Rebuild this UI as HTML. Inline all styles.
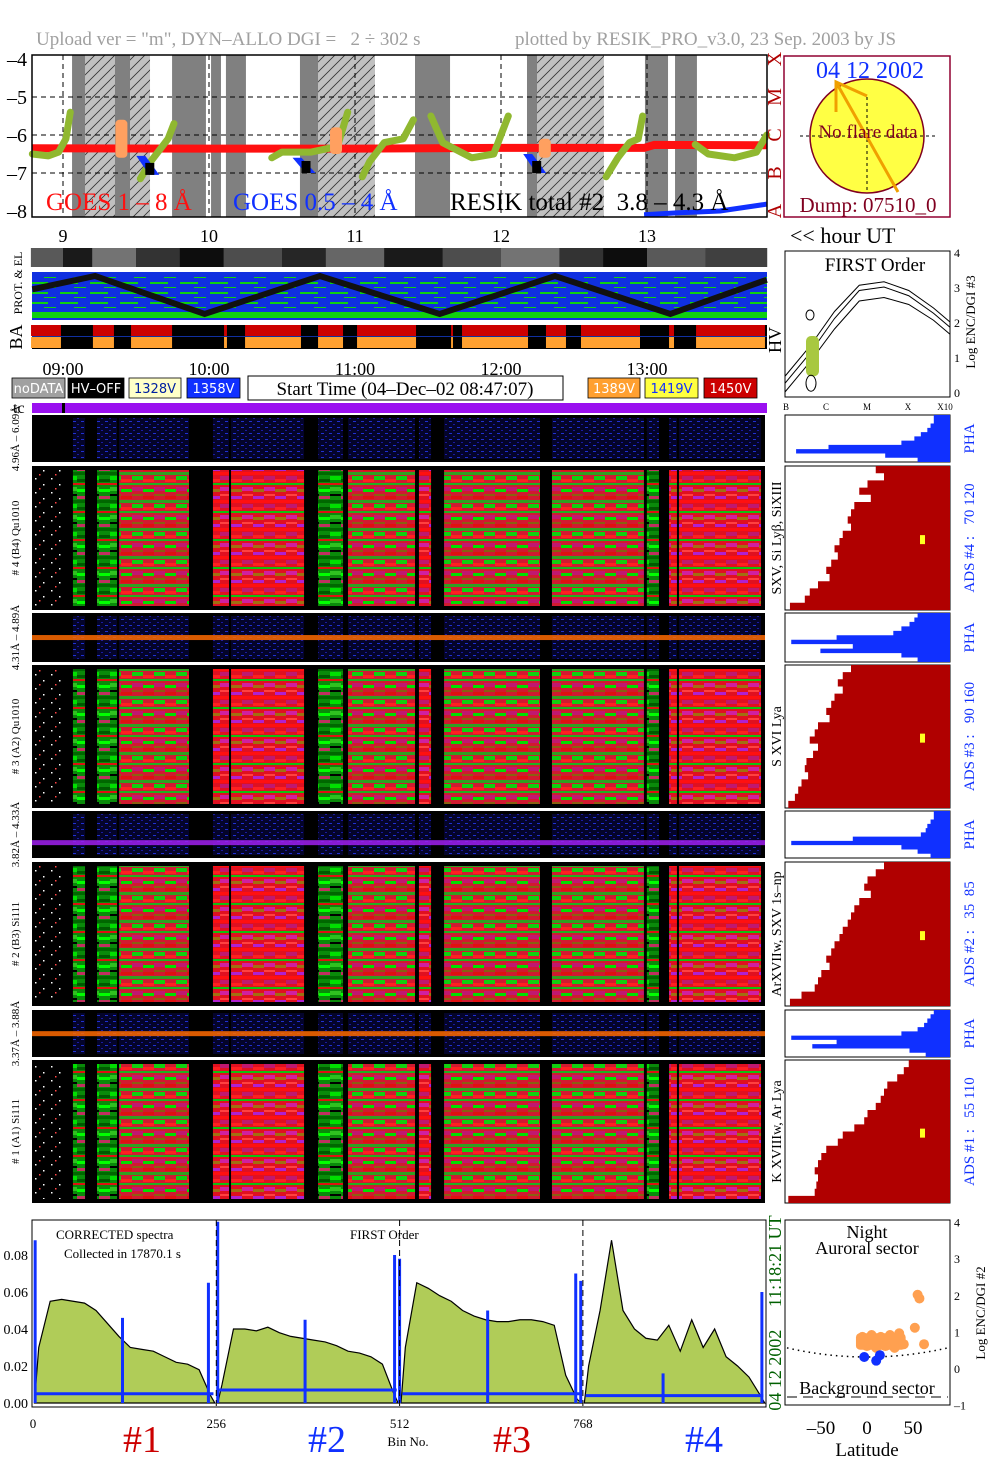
<!DOCTYPE html>
<html><head><meta charset="utf-8"><style>
html,body{margin:0;padding:0;background:#fff;}
svg{display:block;font-family:"Liberation Serif",serif;}
text{white-space:pre;}
</style></head><body>
<svg id="fig" width="1004" height="1477" viewBox="0 0 1004 1477" xmlns="http://www.w3.org/2000/svg">
<defs>
<pattern id="hatch" patternUnits="userSpaceOnUse" width="10" height="10"><path d="M0,10 L10,0 M-2,2 L2,-2 M8,12 L12,8" stroke="#333" stroke-width="0.8"/></pattern>
<pattern id="pg" patternUnits="userSpaceOnUse" width="22" height="28">
<rect width="22" height="28" fill="#0a8a0a"/><rect y="0" width="11" height="4" fill="#00e000"/><rect x="11" y="3" width="11" height="3" fill="#005a00"/><rect y="7" width="22" height="2" fill="#e01010"/><rect x="0" y="11" width="11" height="4" fill="#30c020"/><rect x="11" y="13" width="11" height="3" fill="#00ff00"/><rect y="18" width="11" height="2" fill="#000"/><rect x="11" y="20" width="11" height="3" fill="#c03060"/><rect y="24" width="22" height="3" fill="#006800"/></pattern>
<pattern id="pr" patternUnits="userSpaceOnUse" width="22" height="28">
<rect width="22" height="28" fill="#e01020"/><rect y="0" width="11" height="4" fill="#c01870"/><rect x="11" y="3" width="11" height="3" fill="#ff2020"/><rect y="7" width="22" height="2" fill="#10c010"/><rect x="0" y="11" width="11" height="4" fill="#d020a0"/><rect x="11" y="13" width="11" height="3" fill="#a07010"/><rect y="18" width="11" height="2" fill="#ff4040"/><rect x="11" y="20" width="11" height="3" fill="#b020d0"/><rect y="24" width="22" height="3" fill="#ff1010"/></pattern>
<pattern id="pm" patternUnits="userSpaceOnUse" width="22" height="28">
<rect width="22" height="28" fill="#d01a30"/><rect y="0" width="11" height="4" fill="#10d010"/><rect x="11" y="3" width="11" height="3" fill="#ff2020"/><rect y="7" width="22" height="2" fill="#20b020"/><rect x="0" y="11" width="11" height="4" fill="#c01870"/><rect x="11" y="13" width="11" height="3" fill="#00e000"/><rect y="18" width="11" height="2" fill="#8a6010"/><rect x="11" y="20" width="11" height="3" fill="#e01010"/><rect y="24" width="22" height="3" fill="#30a020"/></pattern>
<pattern id="pn" patternUnits="userSpaceOnUse" width="16" height="14">
<rect width="16" height="14" fill="#000"/><rect x="3" y="2" width="1.5" height="1.5" fill="#fff"/><rect x="11" y="8" width="1.5" height="1.5" fill="#fff"/><rect x="7" y="12" width="1.5" height="1.5" fill="#f44"/></pattern>
<pattern id="pb" patternUnits="userSpaceOnUse" width="8" height="6">
<rect width="8" height="6" fill="#04042a"/><rect x="1" y="1" width="3" height="1" fill="#2030d0"/><rect x="5" y="4" width="2" height="1" fill="#1a1aa0"/></pattern>
<pattern id="pgb" patternUnits="userSpaceOnUse" width="30" height="10">
<rect width="30" height="10" fill="#1030e0"/><rect x="0" y="2" width="18" height="2" fill="#10d010"/><rect x="14" y="7" width="12" height="1" fill="#10d010"/></pattern>
</defs>
<g id="root"></g>
</svg>
<script>
// ---------- DATA ----------
const goesBandsDark = [[9.062,9.151],[9.356,9.459],[9.747,9.979],[10.014,10.082],[10.116,10.253],[10.623,10.747],[11.411,11.651],[12.178,12.247],[12.986,13.144],[13.192,13.342]];
const goesBandsHatch = [[9.151,9.356],[9.459,9.596],[10.747,11.137],[12.247,12.705]];
const goesLongHours = [8.79, 10.0, 11.0, 12.0, 12.98, 13.05, 13.82];
const goesLongVals  = [-6.35, -6.36, -6.36, -6.34, -6.34, -6.26, -6.27];
const goesShortHours = [12.98, 13.2, 13.5, 13.82];
const goesShortVals  = [-8.1, -8.05, -8.0, -7.82];
const resikSegHours = [[8.79,8.9,8.97,9.02,9.05],[9.53,9.6,9.68,9.72,9.76],[10.43,10.5,10.7,10.88,10.95],[11.05,11.1,11.2,11.33,11.4],[11.52,11.6,11.8,11.95,12.05],[12.72,12.8,12.88,12.94,12.97],[13.33,13.42,13.6,13.75,13.82]];
const resikSegVals  = [[-6.5,-6.55,-6.45,-6.1,-5.4],[-7.15,-6.7,-6.3,-6.1,-5.7],[-6.6,-6.45,-6.45,-6.3,-5.4],[-7.1,-6.7,-6.2,-6.1,-5.6],[-5.5,-6.2,-6.6,-6.5,-5.5],[-7.1,-6.6,-6.2,-6.1,-5.5],[-6.25,-6.5,-6.6,-6.45,-6.0]];
const orangeBlobHours = [9.4, 10.87, 12.3];
const orangeBlobTop = [-5.6, -5.8, -6.1];
const orangeBlobBot = [-6.6, -6.5, -6.6];
const blueBlobHours = [9.55, 10.62, 12.2];
const blueBlobTop = [-6.55, -6.6, -6.5];
const blueBlobBot = [-7.05, -7.0, -7.0];
const hourTicks = [9,10,11,12,13];
const hourTickLabels = ["09:00","10:00","11:00","12:00","13:00"];
const goesYTicks = [-4,-5,-6,-7,-8];
const classLetters = ["X","M","C","B","A"];
const zigzagHours = [8.79, 9.22, 9.97, 10.76, 11.58, 12.37, 13.16, 13.82];
const zigzagLevel = [0.35, 0.0, 1.0, 0.0, 1.0, 0.0, 1.0, 0.1];
const haActive = [[8.781,8.986],[9.205,9.349],[9.466,9.747],[10.103,10.123],[10.247,10.630],[10.747,10.918],[11.014,11.418],[11.658,11.671],[11.733,12.185],[12.308,12.445],[12.548,12.952],[13.151,13.185],[13.336,13.808]];
const protGray = [[8.78,9.0,0.35],[9.0,9.2,0.1],[9.2,9.5,0.45],[9.5,9.8,0.2],[9.8,10.1,0.05],[10.1,10.5,0.3],[10.5,10.8,0.15],[10.8,11.2,0.4],[11.2,11.6,0.1],[11.6,12.0,0.3],[12.0,12.4,0.45],[12.4,12.7,0.2],[12.7,13.0,0.05],[13.0,13.4,0.35],[13.4,13.82,0.25]];
const specCols = [[8.788,8.993,"n"],[9.068,9.151,"g"],[9.233,9.370,"g"],[9.384,9.863,"m"],[10.027,10.137,"r"],[10.151,10.651,"r"],[10.747,10.918,"g"],[10.952,11.411,"m"],[11.438,11.521,"r"],[11.610,12.267,"m"],[12.349,12.979,"m"],[12.999,13.082,"g"],[13.151,13.205,"r"],[13.219,13.781,"r"]];
const phaPanels = [[415,462,"4.96Å – 6.09Å",""],[613,662,"4.31Å – 4.89Å","#ff6a00"],[811,858,"3.82Å – 4.33Å","#a020f0"],[1010,1057,"3.37Å – 3.88Å","#ff6a00"]];
const adsPanels = [[466,610,"# 4 (B4) Qu1010","SXV, Si Lyβ, SiXIII","ADS #4 :   70 120"],[665,808,"# 3 (A2) Qu1010","S XVI Lya","ADS #3 :   90 160"],[862,1006,"# 2 (B3) Si111","ArXVIIw, SXV 1s–np","ADS #2 :   35  85"],[1060,1203,"# 1 (A1) Si111","K XVIIIw, Ar Lya","ADS #1 :   55 110"]];
const phaHist = [[0.1,0.1,0.12,0.14,0.18,0.22,0.3,0.75,0.95,0.4,0.2],[0.2,0.22,0.25,0.3,0.35,0.7,0.98,0.6,0.8,0.3,0.2],[0.1,0.1,0.12,0.14,0.15,0.18,0.6,0.98,0.3,0.2,0.12],[0.1,0.12,0.14,0.16,0.2,0.3,0.98,0.7,0.85,0.25,0.15]];
const adsEdge = [[0.55,0.6,0.5,0.45,0.52,0.42,0.4,0.38,0.4,0.35,0.33,0.3,0.32,0.28,0.25,0.27,0.2,0.15,0.12,0.03],[0.4,0.35,0.32,0.35,0.3,0.28,0.25,0.27,0.2,0.18,0.15,0.2,0.17,0.13,0.12,0.14,0.1,0.08,0.06,0.02],[0.6,0.55,0.5,0.48,0.52,0.45,0.42,0.4,0.38,0.35,0.33,0.3,0.28,0.25,0.27,0.22,0.2,0.18,0.1,0.03],[0.75,0.72,0.68,0.62,0.6,0.58,0.55,0.5,0.48,0.42,0.35,0.32,0.25,0.22,0.2,0.18,0.2,0.19,0.18,0.02]];
const specBins = [8,24,40,56,72,88,104,120,136,152,168,184,200,216,232,248,264,280,296,312,328,344,360,376,392,408,424,440,456,472,488,504,520,536,552,568,584,600,616,632,648,664,680,696,712,728,744,760,776,792,808,824,840,856,872,888,904,920,936,952,968,984,1000,1016];
const specVals = [0.03,0.055,0.056,0.055,0.054,0.05,0.043,0.036,0.03,0.029,0.028,0.025,0.022,0.021,0.018,0.004, 0.01,0.04,0.04,0.039,0.041,0.038,0.036,0.035,0.034,0.033,0.031,0.028,0.027,0.025,0.021,0.005, 0.03,0.065,0.062,0.058,0.055,0.05,0.047,0.045,0.044,0.044,0.045,0.045,0.044,0.042,0.015,0.002, 0.02,0.05,0.088,0.05,0.04,0.035,0.034,0.042,0.028,0.045,0.03,0.04,0.025,0.02,0.014,0.004];
const bgSpikeBins = [3,125,245,258,380,505,512,635,758,765,880,1018];
const bgSpikeVals = [0.088,0.046,0.065,0.098,0.045,0.08,0.078,0.05,0.07,0.066,0.016,0.06];
const bgLevels = [0.005,0.007,0.005,0.004];
const specYTicks = [0,0.02,0.04,0.06,0.08];
const specYLabels = ["0.00","0.02","0.04","0.06","0.08"];
const binTicks = [0,256,512,768];
const auroralLat = [-5,5,15,25,35,0,10,20,30,40,55,57,52,62];
const auroralVal = [0.85,0.9,0.85,0.9,0.95,0.6,0.55,0.6,0.55,0.65,2.0,1.9,1.1,0.65];
const bgDotLat = [-3,10,14];
const bgDotVal = [0.3,0.2,0.35];
const latTicks = [-50,0,50];
const encTicks = [4,3,2,1,0,-1];
const foCurveX = [0,0.15,0.3,0.45,0.6,0.75,0.9,1.0];
const foCurveA = [0.45,1.3,2.3,3.05,3.15,2.9,2.4,2.0];
const foCurveB = [0.25,1.1,2.1,2.9,3.0,2.75,2.25,1.85];
const foCurveC = [0.0,0.85,1.8,2.6,2.7,2.5,2.05,1.65];

// ---------- HELPERS ----------
const NS="http://www.w3.org/2000/svg";
const root=document.getElementById('root');
function mk(tag, attrs, parent){const e=document.createElementNS(NS,tag);for(const k in attrs)e.setAttribute(k,attrs[k]);(parent||root).appendChild(e);return e;}
function tx(x,y,s,size,fill,anchor,extra){const e=mk('text',Object.assign({x:x,y:y,'font-size':size,fill:fill||'#000','text-anchor':anchor||'start'},extra||{}));e.textContent=s;return e;}
const X = h => 63 + (h-9)*146;
const GY = v => 59 + (-4 - v)*38;
const BX = b => 33 + b*0.716;
const BY = v => 1403 - v*1850;
const SX = lat => 867 + lat*0.92;
const SY = v => 1368 - v*36.6;

// ---------- TITLE ----------
let t=tx(36,45,'Upload ver = "m", DYN–ALLO DGI =   2 ÷ 302 s',19,'#a0a0a0');


t=tx(515,45,'plotted by RESIK_PRO_v3.0, 23 Sep. 2003 by JS',19,'#a0a0a0');



// ---------- GOES PANEL ----------
const gp=mk('g',{});


goesBandsHatch.forEach(b=>{let r=mk('rect',{x:X(b[0]),y:55,width:X(b[1])-X(b[0]),height:162,fill:'#c0c0c0'},gp);


mk('rect',{x:X(b[0]),y:55,width:X(b[1])-X(b[0]),height:162,fill:'url(#hatch)'},gp);});
goesBandsDark.forEach(b=>{let r=mk('rect',{x:X(b[0]),y:55,width:X(b[1])-X(b[0]),height:162,fill:'#808080'},gp);

});
[-5,-6,-7].forEach(v=>mk('line',{x1:32,x2:767,y1:GY(v),y2:GY(v),stroke:'#000','stroke-dasharray':'5,4','stroke-width':1},gp));
hourTicks.forEach(h=>mk('line',{x1:X(h),x2:X(h),y1:55,y2:217,stroke:'#000','stroke-dasharray':'5,4','stroke-width':1},gp));
let pl=mk('polyline',{points:goesLongHours.map((h,i)=>X(h)+','+GY(goesLongVals[i])).join(' '),fill:'none',stroke:'#ff1010','stroke-width':8},gp);


pl=mk('polyline',{points:goesShortHours.map((h,i)=>X(h)+','+GY(goesShortVals[i])).join(' '),fill:'none',stroke:'#1030ff','stroke-width':5},gp);


resikSegHours.forEach((seg,i)=>{let p=mk('polyline',{points:seg.map((h,j)=>X(h)+','+GY(resikSegVals[i][j])).join(' '),fill:'none',stroke:'#90b830','stroke-width':7,'stroke-linejoin':'round','stroke-linecap':'round'},gp);

});
orangeBlobHours.forEach((h,i)=>{let r=mk('rect',{x:X(h)-6,y:GY(orangeBlobTop[i]),width:12,height:GY(orangeBlobBot[i])-GY(orangeBlobTop[i]),fill:'#ffa060',rx:4},gp);

});
blueBlobHours.forEach((h,i)=>{let p=mk('polygon',{points:`${X(h)-7},${GY(blueBlobTop[i])} ${X(h)+2},${GY(blueBlobTop[i])} ${X(h)+16},${GY(blueBlobBot[i])} ${X(h)+6},${GY(blueBlobBot[i])}`,fill:'#1030ff'},gp);


mk('rect',{x:X(h)+2,y:GY(blueBlobBot[i])-12,width:9,height:12,fill:'#000'},gp);});
mk('rect',{x:32,y:55,width:735,height:162,fill:'none',stroke:'#000','stroke-width':1.5},gp);
goesYTicks.forEach((v,i)=>{let tt=tx(27,GY(v)+7,String(v).replace('-','–'),20,'#000','end');


let c=tx(0,0,classLetters[i],20,'#b00000','middle',{transform:`translate(781,${GY(v)}) rotate(-90)`});

});
t=tx(46,210,'GOES 1 – 8 Å',25,'#ff1010');


t=tx(233,210,'GOES 0.5 – 4 Å',25,'#1030ff');


t=tx(450,210,'RESIK total #2  3.8 – 4.3 Å',25,'#000');



// ---------- SUN PANEL ----------
const sp=mk('g',{});


mk('rect',{x:784,y:56,width:166,height:161,fill:'#fff',stroke:'#900030','stroke-width':1.5},sp);
let sun=mk('circle',{cx:867,cy:136,r:57,fill:'#ffff44',stroke:'#800020','stroke-width':1.5},sp);


mk('line',{x1:800,x2:935,y1:136,y2:136,stroke:'#000','stroke-dasharray':'3,3'},sp);
mk('line',{x1:867,x2:867,y1:97,y2:190,stroke:'#000','stroke-dasharray':'3,3'},sp);
mk('path',{d:'M836,112 L836,82 L867,96 M836,82 L898,192',stroke:'#f0a000','stroke-width':3,fill:'none'},sp);
t=tx(870,78,'04 12 2002',24,'#1030ff','middle');


t=tx(868,138,'No flare data',19,'#800020','middle');


t=tx(868,212,'Dump: 07510_0',21,'#800020','middle');



// hour labels
hourTicks.forEach(h=>{let l=tx(X(h),242,String(h),18,'#000','middle');

});
t=tx(790,243,'<< hour UT',22,'#000');



// ---------- PROT & EL ----------
const pe=mk('g',{});


protGray.forEach(s=>{let g=Math.round(s[2]*255);mk('rect',{x:X(s[0]),y:248,width:X(s[1])-X(s[0])+0.5,height:19,fill:`rgb(${g},${g},${g})`},pe);});
const ob=mk('g',{});


mk('rect',{x:32,y:272,width:735,height:48,fill:'url(#pgb)'},ob);
mk('rect',{x:32,y:272,width:735,height:4,fill:'#1030e0'},ob);
mk('rect',{x:32,y:312,width:735,height:6,fill:'#10d010'},ob);
let zz=mk('polyline',{points:zigzagHours.map((h,i)=>X(h)+','+(276+zigzagLevel[i]*38)).join(' '),fill:'none',stroke:'#111','stroke-width':6},ob);


t=tx(0,0,'PROT. & EL',12,'#000','middle',{transform:'translate(22,283) rotate(-90)'});



// ---------- BA bar ----------
const ba=mk('g',{});


mk('rect',{x:32,y:325,width:735,height:24,fill:'#000'},ba);
haActive.forEach(s=>{mk('rect',{x:X(s[0]),y:325,width:X(s[1])-X(s[0]),height:11,fill:'#cc0000'},ba);
mk('rect',{x:X(s[0]),y:337,width:X(s[1])-X(s[0]),height:11,fill:'#ffa030'},ba);});
mk('line',{x1:32,x2:767,y1:336.5,y2:336.5,stroke:'#1030a0','stroke-width':1},ba);
t=tx(0,0,'BA',18,'#000','middle',{transform:'translate(22,337) rotate(-90)'});


t=tx(0,0,'HV',18,'#000','middle',{transform:'translate(781,340) rotate(-90)'});



hourTicks.forEach((h,i)=>{let l=tx(X(h),375,hourTickLabels[i],18,'#000','middle');

});

// legend boxes
const lg=[[12,53,'#a0a0a0','#fff','noDATA'],[68,56,'#000','#fff','HV–OFF'],[129,52,'#ffffc8','#0020a0','1328V'],[187,53,'#1030ff','#fff','1358V'],[588,52,'#ffa030','#fff','1389V'],[645,53,'#ffff40','#1030ff','1419V'],[704,53,'#cc0000','#fff','1450V']];
lg.forEach(b=>{let g=mk('g',{});


mk('rect',{x:b[0],y:378,width:b[1],height:20,fill:b[2],stroke:'#000','stroke-width':0.8},g);
const e=tx(b[0]+b[1]/2,393,b[4],13,b[3],'middle',{'font-family':'"DejaVu Sans",sans-serif'},g);g.appendChild(e);});
mk('rect',{x:248,y:376,width:315,height:24,fill:'#fff',stroke:'#000','stroke-width':1});
t=tx(405,395,'Start Time (04–Dec–02 08:47:07)',19,'#000','middle');



// tc bar
t=tx(13,413,'tc',16,'#000');


let tc=mk('rect',{x:32,y:403,width:735,height:10,fill:'#9a10f0'});


mk('rect',{x:62,y:403,width:3,height:10,fill:'#000'});

// ---------- SPECTROGRAMS ----------
phaPanels.forEach((p,pi)=>{const g=mk('g',{});


mk('rect',{x:32,y:p[0],width:733,height:p[1]-p[0],fill:'#000'},g);
specCols.forEach(c=>{if(c[2]!=='n')mk('rect',{x:X(c[0]),y:p[0]+3,width:X(c[1])-X(c[0]),height:p[1]-p[0]-6,fill:'url(#pb)'},g);});
if(p[3]){mk('rect',{x:32,y:(p[3]==='#a020f0'?p[0]+(p[1]-p[0])*0.62:p[0]+(p[1]-p[0])*0.45),width:733,height:5,fill:p[3],opacity:0.85},g);}
const l=tx(0,0,p[2],11,'#000','middle',{transform:`translate(19,${(p[0]+p[1])/2}) rotate(-90)`},g);g.appendChild(l);
const hg=mk('g',{});


mk('rect',{x:785,y:p[0],width:165,height:p[1]-p[0],fill:'#fff',stroke:'#000'},hg);
const rows=phaHist[pi],h=(p[1]-p[0])/rows.length;let pts=`950,${p[0]}`;
rows.forEach((v,i)=>{const x=950-v*162;pts+=` ${x},${p[0]+i*h} ${x},${p[0]+(i+1)*h}`;});
pts+=` 950,${p[1]}`;
let pg=mk('polygon',{points:pts,fill:'#1030ff'},hg);


const rl=tx(0,0,'PHA',15,'#1030ff','middle',{transform:`translate(974,${(p[0]+p[1])/2}) rotate(-90)`});


});
adsPanels.forEach((p,pi)=>{const g=mk('g',{});


mk('rect',{x:32,y:p[0],width:733,height:p[1]-p[0],fill:'#000'},g);
const pat={n:'url(#pn)',g:'url(#pg)',r:'url(#pr)',m:'url(#pm)'};
specCols.forEach(c=>{mk('rect',{x:X(c[0]),y:p[0]+4,width:X(c[1])-X(c[0]),height:p[1]-p[0]-8,fill:pat[c[2]]},g);});
const l=tx(0,0,p[2],11,'#000','middle',{transform:`translate(19,${(p[0]+p[1])/2}) rotate(-90)`},g);g.appendChild(l);
const l2=tx(0,0,p[3],14,'#000','middle',{transform:`translate(781,${(p[0]+p[1])/2}) rotate(-90)`});


const hg=mk('g',{});


mk('rect',{x:785,y:p[0],width:165,height:p[1]-p[0],fill:'#fff',stroke:'#000'},hg);
const rows=adsEdge[pi],h=(p[1]-p[0])/rows.length;let pts=`950,${p[0]}`;
rows.forEach((v,i)=>{const x=785+v*165;pts+=` ${x},${p[0]+i*h} ${x},${p[0]+(i+1)*h}`;});
pts+=` 950,${p[1]}`;
let pg=mk('polygon',{points:pts,fill:'#b00000'},hg);


mk('rect',{x:920,y:p[0]+(p[1]-p[0])*0.48,width:5,height:9,fill:'#ffff20'},hg);
const rl=tx(0,0,p[4],15,'#1030ff','middle',{transform:`translate(974,${(p[0]+p[1])/2}) rotate(-90)`});


});

// ---------- FIRST ORDER PANEL ----------
const fo=mk('g',{});


mk('rect',{x:785,y:251,width:165,height:146,fill:'#fff',stroke:'#000'},fo);
const FY=v=>392-v*35, FX=f=>785+f*165;
[foCurveA,foCurveB,foCurveC].forEach(c=>{let p=mk('polyline',{points:foCurveX.map((f,i)=>FX(f)+','+FY(c[i])).join(' '),fill:'none',stroke:'#000','stroke-width':1},fo);

});
mk('rect',{x:806,y:FY(1.6),width:13,height:FY(0.45)-FY(1.6),rx:5,fill:'#a8c840'},fo);
mk('ellipse',{cx:810,cy:FY(2.2),rx:4,ry:5,fill:'none',stroke:'#000'},fo);
mk('ellipse',{cx:811,cy:FY(0.25),rx:5,ry:8,fill:'none',stroke:'#000'},fo);
tx(875,271,'FIRST Order',19,'#000','middle');
[0,1,2,3,4].forEach(v=>{let l=tx(954,FY(v)+5,String(v),12,'#000');});
t=tx(0,0,'Log ENC/DGI #3',13,'#000','middle',{transform:'translate(975,322) rotate(-90)'});


[['B',786],['C',826],['M',867],['X',908],['X10',945]].forEach(a=>tx(a[1],410,a[0],9,'#000','middle'));

// ---------- SUMMED SPECTRUM ----------
const sc=mk('g',{});


mk('rect',{x:32,y:1220,width:734,height:187,fill:'#fff'},sc);
for(let s=0;s<4;s++){const bins=specBins.slice(s*16,s*16+16),vals=specVals.slice(s*16,s*16+16);
let pts=`${BX(s*256+2)},${BY(0)} `+bins.map((b,i)=>BX(b)+','+BY(vals[i])).join(' ')+` ${BX(s*256+254)},${BY(0)}`;
let pg=mk('polygon',{points:pts,fill:'#b0cc58',stroke:'#000','stroke-width':1.2},sc);


let bl=mk('line',{x1:BX(s*256+4),x2:BX(s*256+252),y1:BY(bgLevels[s]),y2:BY(bgLevels[s]),stroke:'#1030ff','stroke-width':3},sc);

}
bgSpikeBins.forEach((b,i)=>{let l=mk('line',{x1:BX(b),x2:BX(b),y1:BY(0),y2:BY(bgSpikeVals[i]),stroke:'#1030ff','stroke-width':3},sc);

});
[256,512,768].forEach(b=>mk('line',{x1:BX(b),x2:BX(b),y1:1220,y2:1407,stroke:'#000','stroke-dasharray':'6,4'},sc));
mk('rect',{x:32,y:1220,width:734,height:187,fill:'none',stroke:'#000'},sc);
specYTicks.forEach((v,i)=>{let l=tx(28,BY(v)+5,specYLabels[i],14,'#000','end');

});
binTicks.forEach(b=>{let l=tx(BX(b),1428,String(b),13,'#000','middle');

});
tx(56,1239,'CORRECTED spectra',13,'#000');
tx(64,1258,'Collected in 17870.1 s',13,'#000');
tx(350,1239,'FIRST Order',13,'#000');
t=tx(408,1446,'Bin No.',13,'#000','middle');


[['#1',142,'#cc0000'],['#2',327,'#1030ff'],['#3',512,'#cc0000'],['#4',704,'#1030ff']].forEach(a=>{let l=tx(a[1],1452,a[0],38,a[2],'middle');

});
t=tx(0,0,'04 12 2002     11:18:21 UT',18,'#006000','middle',{transform:'translate(781,1313) rotate(-90)'});



// ---------- LATITUDE SCATTER ----------
const ls=mk('g',{});


mk('rect',{x:785,y:1220,width:165,height:185,fill:'#fff',stroke:'#000'},ls);
let dc=mk('path',{d:`M787,${SY(0.55)} Q867,${SY(0.05)} 948,${SY(0.55)}`,fill:'none',stroke:'#000','stroke-dasharray':'1.5,4','stroke-width':1.5},ls);


mk('rect',{x:SX(-12),y:SY(0.95),width:SX(42)-SX(-12),height:SY(0.5)-SY(0.95),fill:'#ffa050',rx:4},ls);
auroralLat.forEach((l,i)=>{let c=mk('circle',{cx:SX(l),cy:SY(auroralVal[i]),r:5,fill:'#ffa050'},ls);

});
bgDotLat.forEach((l,i)=>{let c=mk('circle',{cx:SX(l),cy:SY(bgDotVal[i]),r:5,fill:'#1030ff'},ls);

});
mk('line',{x1:787,x2:948,y1:1397,y2:1397,stroke:'#000','stroke-dasharray':'10,6'},ls);
tx(867,1238,'Night',18,'#000','middle');
tx(867,1254,'Auroral sector',18,'#000','middle');
tx(867,1394,'Background sector',18,'#000','middle');
encTicks.forEach(v=>{let l=tx(954,SY(v)+5,String(v).replace('-','–'),12,'#000');

});
latTicks.forEach(v=>{let l=tx(SX(v),1434,String(v).replace('-','–'),19,'#000','middle');

});
t=tx(867,1456,'Latitude',19,'#000','middle');


t=tx(0,0,'Log ENC/DGI #2',13,'#000','middle',{transform:'translate(985,1313) rotate(-90)'});


</script>
</body></html>
